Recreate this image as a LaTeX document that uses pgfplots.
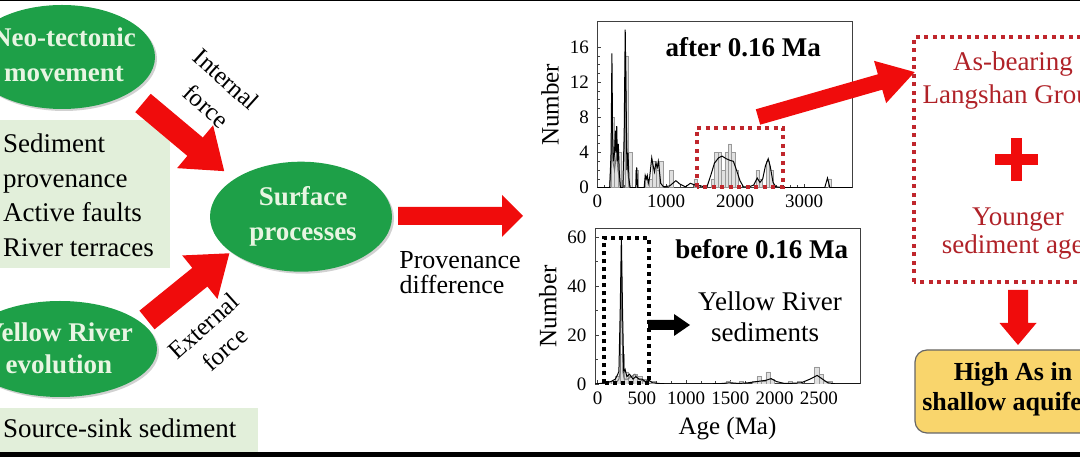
\documentclass[border=0pt]{standalone}
\usepackage{fontspec}
\setmainfont{Liberation Serif}
\usepackage{pgfplots}
\pgfplotsset{compat=1.18}
\definecolor{ellgreen}{RGB}{30,160,72}
\definecolor{elltext}{RGB}{232,245,226}
\definecolor{boxgreen}{RGB}{226,239,218}
\definecolor{arrred}{RGB}{240,12,12}
\definecolor{dred}{RGB}{192,38,44}
\definecolor{txtred}{RGB}{176,34,40}
\definecolor{yel}{RGB}{249,213,108}
\newcommand{\fs}[1]{\fontsize{#1}{#1}\selectfont}
\newcommand{\fatarrow}[8]{%
\begin{scope}[shift={(#1,#2)},rotate=#3]
\fill[#8] (0,{-#5/2}) -- ({#4-#7},{-#5/2}) -- ({#4-#7},{-#6/2}) -- (#4,0) -- ({#4-#7},{#6/2}) -- ({#4-#7},{#5/2}) -- (0,{#5/2}) -- cycle;
\end{scope}}
\pgfplotsset{dz/.style={scale only axis, axis line style={black!75, line width=1pt},
 tick align=inside, tick pos=left, major tick length=4pt, minor tick length=2.5pt,
 every tick/.style={black!75, line width=0.8pt},
 ticklabel style={font=\fs{19}}, /pgf/number format/assume math mode=true,
 xticklabel style={yshift=-4pt}, yticklabel style={xshift=-5pt},
 /pgf/number format/1000 sep={}, label style={font=\fs{25}}, ymin=0,
 ylabel shift=4pt, xlabel shift=6pt}}
\begin{document}
\begin{tikzpicture}
% top plot
\begin{axis}[dz, at={(597.3pt,272.3pt)}, anchor=south west, width=255pt, height=166pt,
 xmin=0, xmax=3700, ymax=18.9, xtick={0,1000,2000,3000}, minor x tick num=9,
 ytick={0,4,8,12,16}, minor y tick num=3, ylabel={Number}]
\addplot[ybar, bar width=50, bar shift=0pt, fill=black!12, draw=black!40, line width=0.5pt] table {
x y
225 8
275 5
325 4
425 15
475 4
575 2
725 1
775 1
825 3
875 2
925 3
1075 2
1425 1
1675 1
1725 4
1775 4
1825 2
1875 4
1925 5
1975 4
2025 2
2325 2
2375 1
2475 3
2525 2
3375 1
};
\addplot[black!55, line width=1pt] table {
x y
180 0
200 3
212 8
225 3
250 2
280 4
300 2
340 0
380 0
395 6
410 15
425 6
440 2
460 0.5
480 0
};
\addplot[black, line width=1pt] table {
x y
0 0
180 0
200 4
212 15.3
222 6
235 3
250 4
262 6.5
272 4
282 7
292 3
305 5
318 2
335 0
370 0
390 6
405 18
418 10
430 2
445 4
460 1
475 0
560 0
572 2.3
585 0
680 0
695 1.4
710 1
725 1.4
740 0.5
760 1.2
790 3.4
810 2.5
830 1.8
850 2.8
870 2.3
885 3
900 2
920 0.5
960 0.1
1050 0.2
1140 0.8
1200 0.4
1280 0.1
1350 0.5
1420 0.3
1500 0.2
1560 0.1
1600 0.3
1650 1.5
1700 2.8
1760 3.4
1810 3.6
1870 3.3
1930 3.1
1975 3.0
2020 2.0
2070 0.8
2120 0.1
2200 0.1
2270 0.3
2320 1.1
2360 0.6
2400 1
2440 2.5
2480 3.3
2510 2.4
2550 0.6
2590 0.1
2700 0
3300 0
3340 1.1
3375 0
3700 0
};
\end{axis}
% bottom plot
\begin{axis}[dz, at={(595pt,76pt)}, anchor=south west, width=265pt, height=155pt,
 xmin=-30, xmax=2964, ymax=63.3, xtick={0,500,1000,1500,2000,2500}, minor x tick num=2,
 ytick={0,20,40,60}, minor y tick num=1, ylabel={Number}, xlabel={Age (Ma)}]
\addplot[ybar, bar width=50, bar shift=0pt, fill=black!12, draw=black!40, line width=0.5pt] table {
x y
125 1
175 1
225 3
275 12
325 5
375 3
425 4
475 3
525 2
575 1
625 1
1475 1
1625 1
1775 1
1825 3
1875 1
1925 5
1975 2
2175 1
2275 1
2475 7
2525 4
2575 1
2625 1
};
\addplot[black!55, line width=1pt] table {
x y
200 0
240 2
255 5
262 30
268 49
275 30
285 5
300 2
340 2
420 4
460 2
600 0
};
\addplot[black, line width=1pt] table {
x y
-30 0
100 0.5
150 1
200 2
240 5
255 30
268 60
281 30
295 5
310 6
330 3
360 4
400 2
430 3
470 2
500 2
540 1
580 1.5
620 0.5
700 0.2
800 0
1200 0
1400 0.2
1500 0.5
1600 0.2
1700 0.5
1800 1
1900 1.5
1960 2.2
2020 1
2100 0.3
2200 0.3
2300 0.5
2400 2
2480 3.5
2540 2
2600 0.5
2700 0
2964 0
};
\end{axis}
\begin{scope}[x=1pt,y=1pt, txt/.style={inner sep=0pt, text height=0.68em, text depth=0pt}]
\path[use as bounding box] (0,0) rectangle (1080,460);
\clip (0,0) rectangle (1080,460);
% frame
\draw[line width=1.2pt] (0,459.4) -- (1080,459.4);
\fill (0,3) rectangle (1080,7.5);
% left boxes
\fill[boxgreen] (0,192) rectangle (170,340);
\fill[boxgreen] (0,8) rectangle (258,52);
% ellipses
\fill[black, opacity=0.18] (64,401) ellipse [x radius=93, y radius=52];
\fill[ellgreen] (62,403) ellipse [x radius=93, y radius=52];
\fill[black, opacity=0.18] (62,109) ellipse [x radius=97, y radius=48];
\fill[ellgreen] (60,111) ellipse [x radius=97, y radius=48];
\fill[black, opacity=0.18] (303,241.3) ellipse [x radius=91, y radius=55];
\fill[ellgreen] (301,243.3) ellipse [x radius=91, y radius=55];
\node[txt, text=elltext, font=\fs{27}\bfseries] at (64,416.7) {Neo-tectonic};
\node[txt, text=elltext, font=\fs{27}\bfseries] at (64,381.7) {movement};
\node[txt, text=elltext, font=\fs{27}\bfseries] at (59,122) {Yellow River};
\node[txt, text=elltext, font=\fs{27}\bfseries] at (59,90) {evolution};
\node[txt, text=elltext, font=\fs{27}\bfseries] at (303,258.3) {Surface};
\node[txt, text=elltext, font=\fs{27}\bfseries] at (303,223.3) {processes};
% left box text
\node[anchor=base west, inner sep=0pt, font=\fs{27}] at (3,307) {Sediment};
\node[anchor=base west, inner sep=0pt, font=\fs{27}] at (3,272) {provenance};
\node[anchor=base west, inner sep=0pt, font=\fs{27}] at (3,238) {Active faults};
\node[anchor=base west, inner sep=0pt, font=\fs{27}] at (3,203) {River terraces};
\node[anchor=base west, inner sep=0pt, font=\fs{27}] at (3,22) {Source-sink sediment};
% arrows left
\fatarrow{143}{357}{-40}{106}{24}{56}{38}{arrred}
\fatarrow{147}{140}{39}{106}{24}{56}{38}{arrred}
\fatarrow{398}{244}{0}{125}{18}{42}{21}{arrred}
\node[txt, font=\fs{25}, rotate=-42] at (223,377) {Internal};
\node[txt, font=\fs{25}, rotate=-42] at (203,350) {force};
\node[txt, font=\fs{25}, rotate=42] at (207,130) {External};
\node[txt, font=\fs{25}, rotate=42] at (228,107) {force};
\node[txt, font=\fs{26}] at (460,195) {Provenance};
\node[txt, font=\fs{26}] at (452,170) {difference};
% annotations in plots
\node[txt, font=\fs{27}\bfseries] at (743.3,406.7) {after 0.16 Ma};
\node[txt, font=\fs{27}\bfseries] at (761.7,205) {before 0.16 Ma};
\node[txt, font=\fs{27}] at (770,152.7) {Yellow River};
\node[txt, font=\fs{27}] at (765,121.7) {sediments};
\draw[dred, line width=4pt, dash pattern=on 4pt off 4.5pt] (696.7,273) rectangle (783.3,332);
\draw[black, line width=4pt, dash pattern=on 4pt off 4pt] (604,76.7) rectangle (649.3,221.7);
\fatarrow{648}{135}{0}{42}{10}{22}{16}{black}
\fatarrow{758}{343}{16}{163}{16}{44}{36}{arrred}
% right side
\draw[dred, line width=4pt, dash pattern=on 4pt off 4.5pt] (914.3,178.3) rectangle (1112,423.3);
\node[txt, font=\fs{27}, text=txtred] at (1013,393.3) {As-bearing};
\node[txt, font=\fs{27}, text=txtred] at (1013,360) {Langshan Group};
\fill[arrred] (994.5,295.2) rectangle (1037.5,306.2);
\fill[arrred] (1010.5,279.2) rectangle (1021.5,322.2);
\node[txt, font=\fs{27}, text=txtred] at (1018,238.3) {Younger};
\node[txt, font=\fs{27}, text=txtred] at (1018,210) {sediment ages};
\fatarrow{1018}{170}{-90}{55}{20}{37}{22}{arrred}
\draw[fill=yel, draw=black!60, line width=1.2pt, rounded corners=12pt] (915,27) rectangle (1110,110);
\node[txt, font=\fs{26}\bfseries] at (1013,83.3) {High As in};
\node[txt, font=\fs{26}\bfseries] at (1013,53.3) {shallow aquifers};
\end{scope}
\end{tikzpicture}
\end{document}
